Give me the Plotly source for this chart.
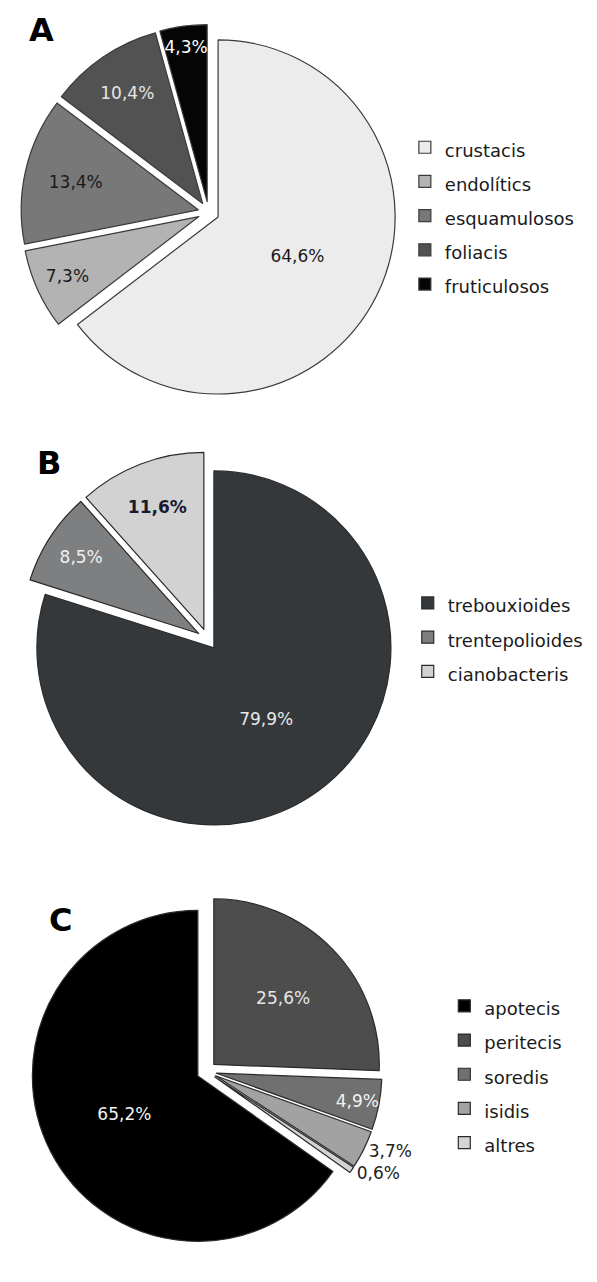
import plotly.graph_objects as go

# ---------------- data ----------------
cats_A = ["crustacis", "endolítics", "esquamulosos", "foliacis", "fruticulosos"]
vals_A = [64.6, 7.3, 13.4, 10.4, 4.3]

cats_B = ["trebouxioides", "trentepolioides", "cianobacteris"]
vals_B = [79.9, 8.5, 11.6]

cats_C = ["apotecis", "peritecis", "soredis", "isidis", "altres"]
vals_C = [65.2, 25.6, 4.9, 3.7, 0.6]

panel_letters = ["A", "B", "C"]

# ---------------- styles ----------------
OFF = 8                      # default page (body) margin
W, H = 597 - 2 * OFF, 1282 - 2 * OFF
PULL = 0.06
FONT = "DejaVu Sans"
cols_A = ["#ececec", "#b3b3b3", "#787878", "#525252", "#050505"]
txt_A = ["#1a1a1a", "#1a1a1a", "#1a1a1a", "#e6e6e6", "#ffffff"]
cols_B = ["#35383b", "#7d7f80", "#d2d2d2"]
txt_B = ["#e8e8e8", "#f0f0f0", "#1a1a2e"]
wt_B = ["normal", "normal", "bold"]
cols_C = ["#000000", "#4d4d4d", "#707070", "#a2a2a2", "#d4d4d4"]
txt_C = ["#f2f2f2", "#e6e6e6", "#f2f2f2", "#222222", "#222222"]


def fmt(v):
    return f"{v:.1f}".replace(".", ",") + "%"


def px(x):
    return (x - OFF) / W


def py(y):
    return 1 - (y - OFF) / H


def dom(cx, cy, r):
    h = r * (1 + PULL)
    return dict(x=[max(0.0, px(cx - h)), min(1.0, px(cx + h))],
                y=[max(0.0, py(cy + h)), min(1.0, py(cy - h))])


def leg_label(c):
    return f"<span style='font-size:18px'>{c}</span>"


fig = go.Figure()

fig.add_trace(go.Pie(
    labels=[leg_label(c) for c in cats_A], values=vals_A,
    text=[fmt(v) for v in vals_A], textinfo="text",
    sort=False, direction="clockwise", rotation=0,
    pull=[PULL] * len(vals_A),
    marker=dict(colors=cols_A, line=dict(color="#3a3a3a", width=1.2)),
    textposition="inside", insidetextorientation="horizontal",
    insidetextfont=dict(family=FONT, size=17, color=txt_A),
    domain=dom(204, 216, 184), legend="legend", hoverinfo="label+percent",
))

fig.add_trace(go.Pie(
    labels=[leg_label(c) for c in cats_B], values=vals_B,
    text=[fmt(v) for v in vals_B], textinfo="text",
    sort=False, direction="clockwise", rotation=0,
    pull=[PULL] * len(vals_B),
    marker=dict(colors=cols_B, line=dict(color="#2a2a2a", width=1.2)),
    textposition="inside", insidetextorientation="horizontal",
    insidetextfont=dict(family=FONT, size=17, color=txt_B, weight=wt_B),
    domain=dom(203, 651, 184), legend="legend2", hoverinfo="label+percent",
))

rot_C = 360 * (1 - vals_C[0] / sum(vals_C))
fig.add_trace(go.Pie(
    labels=[leg_label(c) for c in cats_C], values=vals_C,
    text=[fmt(v) for v in vals_C], textinfo="text",
    sort=False, direction="clockwise", rotation=rot_C,
    pull=[PULL] * len(vals_C),
    marker=dict(colors=cols_C, line=dict(color="#2a2a2a", width=1.2)),
    textposition=["inside", "inside", "inside", "outside", "outside"],
    insidetextorientation="horizontal",
    insidetextfont=dict(family=FONT, size=17, color=txt_C),
    outsidetextfont=dict(family=FONT, size=17, color="#222222"),
    domain=dom(202, 1091, 172), legend="legend3", hoverinfo="label+percent",
))

leg_common = dict(font=dict(family=FONT, size=24, color="#1a1a1a"),
                  bgcolor="rgba(0,0,0,0)", itemwidth=30, valign="top",
                  xanchor="left", yanchor="middle",
                  itemclick=False, itemdoubleclick=False)

fig.update_layout(
    width=W, height=H,
    margin=dict(l=0, r=0, t=0, b=0),
    paper_bgcolor="white", plot_bgcolor="white",
    uniformtext=dict(mode="show", minsize=17),
    legend=dict(x=px(408), y=py(219.5), **leg_common),
    legend2=dict(x=px(411), y=py(649), **leg_common),
    legend3=dict(x=px(449), y=py(1094), **leg_common),
    annotations=[
        dict(text=f"<b>{panel_letters[0]}</b>", x=px(30.5), y=py(30)),
        dict(text=f"<b>{panel_letters[1]}</b>", x=px(38.5), y=py(471)),
        dict(text=f"<b>{panel_letters[2]}</b>", x=px(50), y=py(937)),
    ],
)
for a in fig.layout.annotations:
    a.update(xref="paper", yref="paper", showarrow=False,
             xanchor="center", yanchor="middle",
             font=dict(family=FONT, size=32, color="#000000"))

fig.write_html("out.html")
